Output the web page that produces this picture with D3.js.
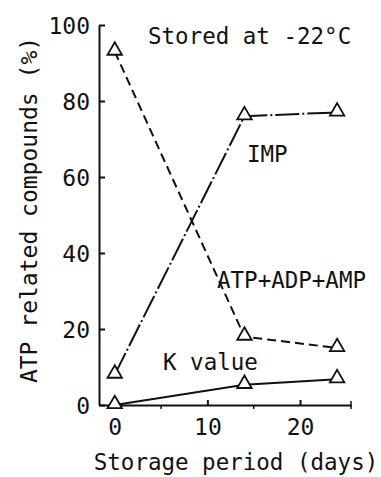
<!DOCTYPE html>
<html>
<head>
<meta charset="utf-8">
<script src="https://cdn.jsdelivr.net/npm/d3@7"></script>
<style>
  body { margin: 0; background: #fff; }
  svg text { font-family: "DejaVu Sans Mono", monospace; fill: #111; font-size: 22.5px; }
</style>
</head>
<body>
<script>
// storage days sampled
var days = [0, 14, 24];
// series values (%)
var impValues = [8, 76, 77];
var atpSumValues = [93, 18, 15];
var kValues = [0, 5.3, 6.8];
var seriesNames = ['IMP', 'ATP+ADP+AMP', 'K value'];
var yTicks = [0, 20, 40, 60, 80, 100];
var xTicks = [0, 10, 20];
var xMinorTicks = [5, 15];

var width = 381, height = 477;

var svg = d3.select('body').append('svg')
  .attr('width', width)
  .attr('height', height);

var x = d3.scaleLinear().domain([-1.7, 25.5]).range([99, 351]);
var y = d3.scaleLinear().domain([0, 100]).range([405, 25]);

// y axis, ticks pointing inward
var yAxis = svg.append('g')
  .attr('transform', `translate(${x(-1.7)},0)`)
  .call(d3.axisLeft(y).tickValues(yTicks).tickSize(-6).tickPadding(9).tickSizeOuter(0));
yAxis.select('.domain').attr('stroke', '#111').attr('stroke-width', 2);
yAxis.selectAll('.tick line').attr('stroke', '#111').attr('stroke-width', 2);
yAxis.selectAll('.tick text').style('font-size', '23px').attr('dy', '0.36em');

// x axis
var xAxis = svg.append('g')
  .attr('transform', `translate(0,${y(0)})`)
  .call(d3.axisBottom(x).tickValues(xTicks).tickSize(-5).tickPadding(14).tickSizeOuter(0));
xAxis.select('.domain').attr('stroke', '#111').attr('stroke-width', 2);
xAxis.selectAll('.tick line').attr('stroke', '#111').attr('stroke-width', 2);
xAxis.selectAll('.tick text').style('font-size', '23px');

xAxis.selectAll('line.minor').data(xMinorTicks).enter().append('line')
  .attr('class', 'minor')
  .attr('x1', d => x(d)).attr('x2', d => x(d))
  .attr('y1', 0).attr('y2', 4)
  .attr('stroke', '#111').attr('stroke-width', 1.5);

// small end tick on the x axis
xAxis.append('line')
  .attr('x1', x(25.5)).attr('x2', x(25.5))
  .attr('y1', -4).attr('y2', 4)
  .attr('stroke', '#111').attr('stroke-width', 1.5);

var line = d3.line().x(d => x(d[0])).y(d => y(d[1]));

var series = [
  { name: seriesNames[0], values: impValues, dash: '24,3,2,3' },
  { name: seriesNames[1], values: atpSumValues, dash: '9,5' },
  { name: seriesNames[2], values: kValues, dash: null }
];

var tri = d3.symbol().type(d3.symbolTriangle).size(90);

series.forEach(function(s) {
  var pts = days.map((d, i) => [d, s.values[i]]);
  svg.append('path')
    .datum(pts)
    .attr('d', line)
    .attr('fill', 'none')
    .attr('stroke', '#111')
    .attr('stroke-width', 2)
    .attr('stroke-dasharray', s.dash);
  svg.selectAll(null).data(pts).enter().append('path')
    .attr('d', tri)
    .attr('transform', d => `translate(${x(d[0])},${y(d[1]) - 1})`)
    .attr('fill', '#fff')
    .attr('stroke', '#111')
    .attr('stroke-width', 1.8);
});

// series labels
svg.append('text').attr('x', 247).attr('y', 162).text(seriesNames[0]);
svg.append('text').attr('x', 217).attr('y', 288).text(seriesNames[1]);
svg.append('text').attr('x', 163).attr('y', 370).text(seriesNames[2]);

// annotation
svg.append('text').attr('x', 148).attr('y', 44).text('Stored at -22°C');

// axis titles
svg.append('text')
  .attr('x', 236).attr('y', 470)
  .attr('text-anchor', 'middle')
  .text('Storage period (days)');

svg.append('text')
  .attr('transform', 'translate(37,210) rotate(-90)')
  .attr('text-anchor', 'middle')
  .style('font-size', '23px')
  .text('ATP related compounds (%)');
</script>
</body>
</html>
